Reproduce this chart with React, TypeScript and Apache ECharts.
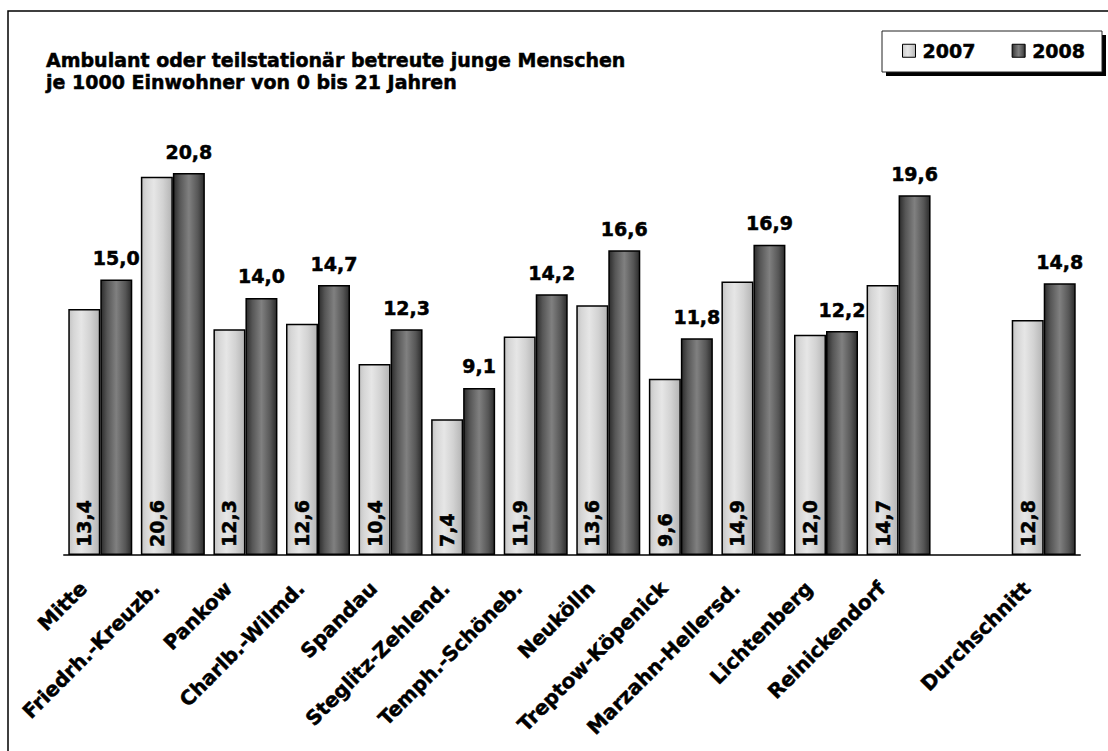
import React, { useEffect, useRef } from "react";
import * as echarts from "echarts";

const categories = [
  "Mitte",
  "Friedrh.-Kreuzb.",
  "Pankow",
  "Charlb.-Wilmd.",
  "Spandau",
  "Steglitz-Zehlend.",
  "Temph.-Schöneb.",
  "Neukölln",
  "Treptow-Köpenick",
  "Marzahn-Hellersd.",
  "Lichtenberg",
  "Reinickendorf",
  "",
  "Durchschnitt",
];

const values2007 = [13.4, 20.6, 12.3, 12.6, 10.4, 7.4, 11.9, 13.6, 9.6, 14.9, 12.0, 14.7, null, 12.8];
const values2008 = [15.0, 20.8, 14.0, 14.7, 12.3, 9.1, 14.2, 16.6, 11.8, 16.9, 12.2, 19.6, null, 14.8];

const seriesNames = ["2007", "2008"];
const titleText = "Ambulant oder teilstationär betreute junge Menschen\nje 1000 Einwohner von 0 bis 21 Jahren";

const FONT = "'DejaVu Sans', Verdana, sans-serif";

const fmt = (p: any) => (p.value == null ? "" : Number(p.value).toFixed(1).replace(".", ","));

const lightGrad = new echarts.graphic.LinearGradient(0, 0, 1, 0, [
  { offset: 0, color: "#c4c4c4" },
  { offset: 0.15, color: "#d6d6d6" },
  { offset: 0.4, color: "#e6e6e6" },
  { offset: 0.7, color: "#d2d2d2" },
  { offset: 1, color: "#b4b4b4" },
]);
const darkGrad = new echarts.graphic.LinearGradient(0, 0, 1, 0, [
  { offset: 0, color: "#2c2c2c" },
  { offset: 0.2, color: "#565656" },
  { offset: 0.5, color: "#808080" },
  { offset: 0.8, color: "#565656" },
  { offset: 1, color: "#2c2c2c" },
]);

const boldText = {
  fontFamily: FONT,
  fontWeight: "bold",
  color: "#000",
  textBorderColor: "#000",
  textBorderWidth: 0.5,
};

export default function App() {
  const ref = useRef<HTMLDivElement>(null);
  useEffect(() => {
    if (!ref.current) return;
    const chart = echarts.init(ref.current, undefined, { renderer: "svg" });
    chart.setOption({
      animation: false,
      backgroundColor: "#ffffff",
      textStyle: { fontFamily: FONT },
      title: {
        text: titleText,
        left: 46,
        top: 49,
        padding: 0,
        textStyle: { ...boldText, fontSize: 19, lineHeight: 22 },
      },
      graphic: [
        {
          type: "rect",
          z: -10,
          shape: { x: 8, y: 11, width: 1200, height: 800 },
          style: { fill: "none", stroke: "#000", lineWidth: 1.5 },
        },
        {
          type: "rect",
          z: -10,
          shape: { x: 886, y: 35, width: 220, height: 41 },
          style: { fill: "#000" },
        },
        {
          type: "rect",
          z: -9,
          shape: { x: 882, y: 31, width: 220, height: 41 },
          style: { fill: "#fff", stroke: "#222", lineWidth: 1 },
        },
      ],
      legend: {
        left: 902,
        top: 41,
        padding: 0,
        itemGap: 36,
        itemWidth: 13,
        itemHeight: 13,
        icon: "rect",
        itemStyle: { borderColor: "#000", borderWidth: 1 },
        textStyle: { ...boldText, fontSize: 19, padding: [0, 0, 0, 2] },
        data: seriesNames,
      },
      grid: { left: 64, right: 28, top: 96, bottom: 196, containLabel: false },
      xAxis: {
        type: "category",
        data: categories,
        axisTick: { show: false },
        axisLine: { lineStyle: { color: "#404040", width: 2 } },
        axisLabel: {
          ...boldText,
          interval: 0,
          rotate: 45,
          margin: 13,
          padding: [0, 24, 0, 0],
          fontSize: 20,
        },
      },
      yAxis: {
        type: "value",
        min: 0,
        max: 25,
        show: false,
        splitLine: { show: false },
      },
      series: [
        {
          name: seriesNames[0],
          type: "bar",
          data: values2007,
          barWidth: 32,
          barGap: "0%",
          itemStyle: { color: lightGrad, borderColor: "#000", borderWidth: 1.5 },
          label: {
            ...boldText,
            show: true,
            position: "insideBottom",
            rotate: 90,
            align: "left",
            verticalAlign: "middle",
            distance: 8,
            formatter: fmt,
            fontSize: 19,
          },
        },
        {
          name: seriesNames[1],
          type: "bar",
          data: values2008,
          barWidth: 32,
          barGap: "0%",
          itemStyle: { color: darkGrad, borderColor: "#000", borderWidth: 1.5 },
          label: {
            ...boldText,
            show: true,
            position: "top",
            distance: 12,
            formatter: fmt,
            fontSize: 19,
          },
        },
      ],
    });
    return () => chart.dispose();
  }, []);
  return (
    <div
      ref={ref}
      style={{ position: "fixed", left: 0, top: 0, width: 1108, height: 751 }}
    />
  );
}
